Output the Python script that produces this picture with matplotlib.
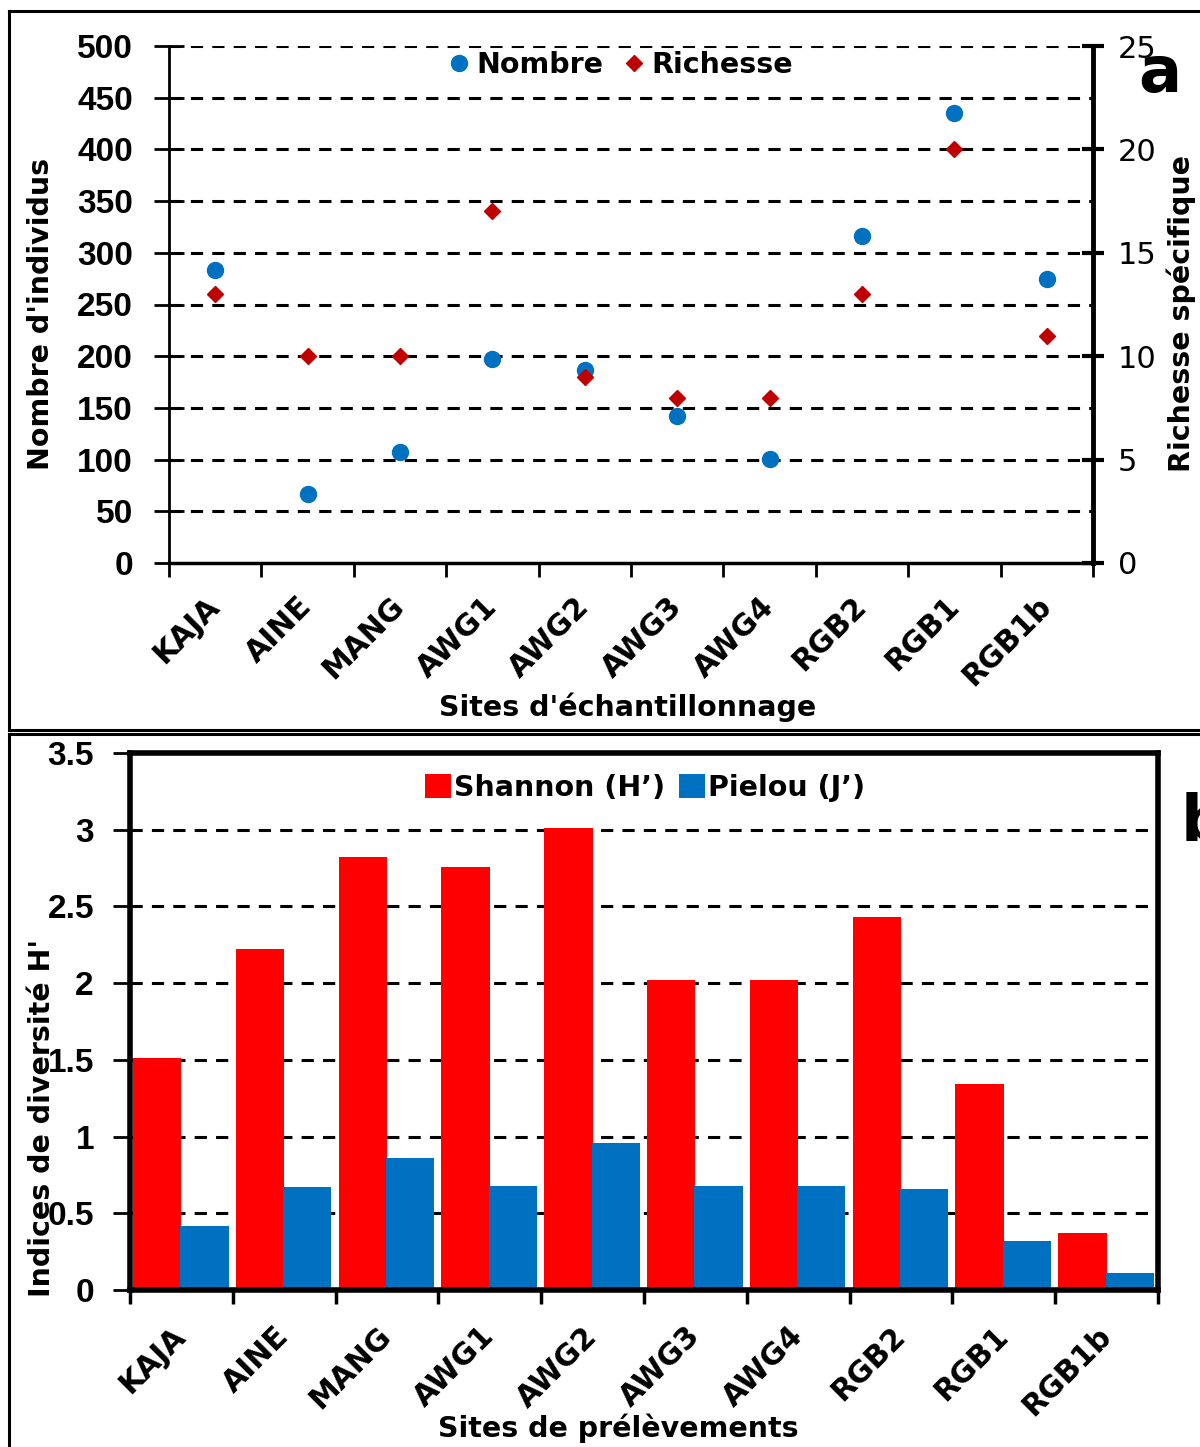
import matplotlib
matplotlib.use("Agg")
import matplotlib.pyplot as plt
from matplotlib.lines import Line2D
from matplotlib.patches import Patch
import numpy as np

sites = ["KAJA", "AINE", "MANG", "AWG1", "AWG2", "AWG3", "AWG4", "RGB2", "RGB1", "RGB1b"]
nombre = [283, 67, 107, 197, 187, 142, 101, 316, 435, 275]
richesse = [13, 10, 10, 17, 9, 8, 8, 13, 20, 11]
shannon = [1.51, 2.22, 2.82, 2.76, 3.01, 2.02, 2.02, 2.43, 1.34, 0.37]
pielou = [0.42, 0.67, 0.86, 0.68, 0.96, 0.68, 0.68, 0.66, 0.32, 0.11]
left_ticks_a = [0, 50, 100, 150, 200, 250, 300, 350, 400, 450, 500]
right_ticks_a = [0, 5, 10, 15, 20, 25]
ticks_b = [0, 0.5, 1, 1.5, 2, 2.5, 3, 3.5]
tick_labels_b = ["0", "0.5", "1", "1.5", "2", "2.5", "3", "3.5"]

W, H = 1200, 1447
fig = plt.figure(figsize=(W / 100, H / 100), dpi=100)

def fx(px):
    return px / W

def fy(py):
    return 1 - py / H

GF = "DejaVu Sans"
AF = "Liberation Sans"
BLUE = "#0070C0"
DRED = "#C00000"
RED = "#FF0000"
dash = (0, (4, 3))

# frames
for xs, ys in [([9, 1205], [11, 11]), ([9, 9], [11, 730]), ([9, 1205], [730, 730]),
               ([9, 1205], [734, 734]), ([9, 9], [734, 1450])]:
    fig.add_artist(Line2D([fx(x) for x in xs], [fy(y) for y in ys], color="black", lw=2.2,
                          transform=fig.transFigure))

# ---------- panel a ----------
ax1 = fig.add_axes([fx(169), fy(563), (1093 - 169) / W, (563 - 46) / H])
x = np.arange(len(sites))
ax1.set_xlim(-0.5, len(sites) - 0.5)
ax1.set_ylim(0, 500)
ax1.set_yticks(left_ticks_a)
ax1.set_yticklabels([str(v) for v in left_ticks_a], fontfamily=AF, fontweight="bold", fontsize=24)
ax1.tick_params(axis="y", direction="inout", length=22, width=2, pad=15)
for v in left_ticks_a[1:]:
    ax1.axhline(v, color="black", lw=2.2, linestyle=dash, zorder=1)
ax1.set_xticks(np.arange(len(sites) + 1) - 0.5)
ax1.set_xticklabels([])
ax1.tick_params(axis="x", which="major", direction="out", length=10, width=2)
ax1.set_xticks(x, minor=True)
ax1.set_xticklabels(sites, minor=True, rotation=45, ha="right", va="center",
                    rotation_mode="anchor", fontfamily=GF, fontweight="bold", fontsize=21.5)
ax1.tick_params(axis="x", which="minor", length=0, pad=28)
ax1.spines["top"].set_visible(False)
ax1.spines["left"].set_linewidth(2)
ax1.spines["bottom"].set_linewidth(2.5)
ax1.spines["right"].set_visible(False)

ax1.plot(x, nombre, "o", color=BLUE, ms=11.5, zorder=4, linestyle="none")
ax2 = ax1.twinx()
ax2.set_ylim(0, 25)
ax2.set_yticks(right_ticks_a)
ax2.set_yticklabels([str(v) for v in right_ticks_a], fontfamily=GF, fontsize=22)
ax2.tick_params(axis="y", direction="inout", length=16, width=3, pad=10)
ax2.spines["right"].set_linewidth(3.5)
for s in ["top", "left", "bottom"]:
    ax2.spines[s].set_visible(False)
ax2.plot(x, richesse, "D", color=DRED, ms=8, zorder=5, linestyle="none")

h1 = Line2D([], [], marker="o", color=BLUE, ms=11.5, linestyle="none")
h2 = Line2D([], [], marker="D", color=DRED, ms=8, linestyle="none")
ax2.legend([h1, h2], ["Nombre", "Richesse"], loc="center", bbox_to_anchor=(0.487, 0.963),
           ncol=2, frameon=False, handletextpad=0.1, columnspacing=0.6, handlelength=1.0,
           prop={"family": GF, "weight": "bold", "size": 20.5})

fig.text(fx(41), fy(314), "Nombre d'individus", rotation=90, ha="center", va="center",
         fontfamily=GF, fontweight="bold", fontsize=20.5)
fig.text(fx(1181), fy(313), "Richesse spécifique", rotation=90, ha="center", va="center",
         fontfamily=GF, fontweight="bold", fontsize=20.5)
fig.text(fx(628), fy(707), "Sites d'échantillonnage", ha="center", va="center",
         fontfamily=GF, fontweight="bold", fontsize=20.5)
fig.text(fx(1160), fy(74), "a", ha="center", va="center", fontfamily=GF, fontweight="bold",
         fontsize=46)

# ---------- panel b ----------
ax3 = fig.add_axes([fx(130), fy(1290), (1158 - 130) / W, (1290 - 753) / H])
ax3.set_xlim(-0.5, len(sites) - 0.5)
ax3.set_ylim(0, 3.5)
ax3.bar(x - 0.235, shannon, width=0.47, color=RED, zorder=3)
ax3.bar(x + 0.225, pielou, width=0.47, color=BLUE, zorder=3)
for v in ticks_b[1:-1]:
    ax3.axhline(v, color="black", lw=2.2, linestyle=dash, zorder=1)
ax3.set_yticks(ticks_b)
ax3.set_yticklabels(tick_labels_b, fontfamily=AF, fontweight="bold", fontsize=24)
ax3.tick_params(axis="y", direction="out", length=12, width=2, pad=14)
ax3.set_xticks(np.arange(len(sites) + 1) - 0.5)
ax3.set_xticklabels([])
ax3.tick_params(axis="x", which="major", direction="out", length=10, width=2.5)
ax3.set_xticks(x, minor=True)
ax3.set_xticklabels(sites, minor=True, rotation=45, ha="right", va="center",
                    rotation_mode="anchor", fontfamily=GF, fontweight="bold", fontsize=21.5)
ax3.tick_params(axis="x", which="minor", length=0, pad=30)
for s in ax3.spines.values():
    s.set_linewidth(4)
    s.set_zorder(5)

ph1 = Patch(facecolor=RED)
ph2 = Patch(facecolor=BLUE)
ax3.legend([ph1, ph2], ["Shannon (H\u2019)", "Pielou (J\u2019)"], loc="center",
           bbox_to_anchor=(0.501, 0.935), ncol=2, frameon=False, handletextpad=0.1,
           columnspacing=0.5, handlelength=0.9, handleheight=0.9,
           prop={"family": GF, "weight": "bold", "size": 20.5})

fig.text(fx(42), fy(1118), "Indices de diversité H'", rotation=90, ha="center", va="center",
         fontfamily=GF, fontweight="bold", fontsize=20.5)
fig.text(fx(618), fy(1428), "Sites de prélèvements", ha="center", va="center",
         fontfamily=GF, fontweight="bold", fontsize=20.5)
fig.text(fx(1204), fy(823), "b", ha="center", va="center", fontfamily=GF, fontweight="bold",
         fontsize=46)

fig.savefig("out.png", dpi=100)
